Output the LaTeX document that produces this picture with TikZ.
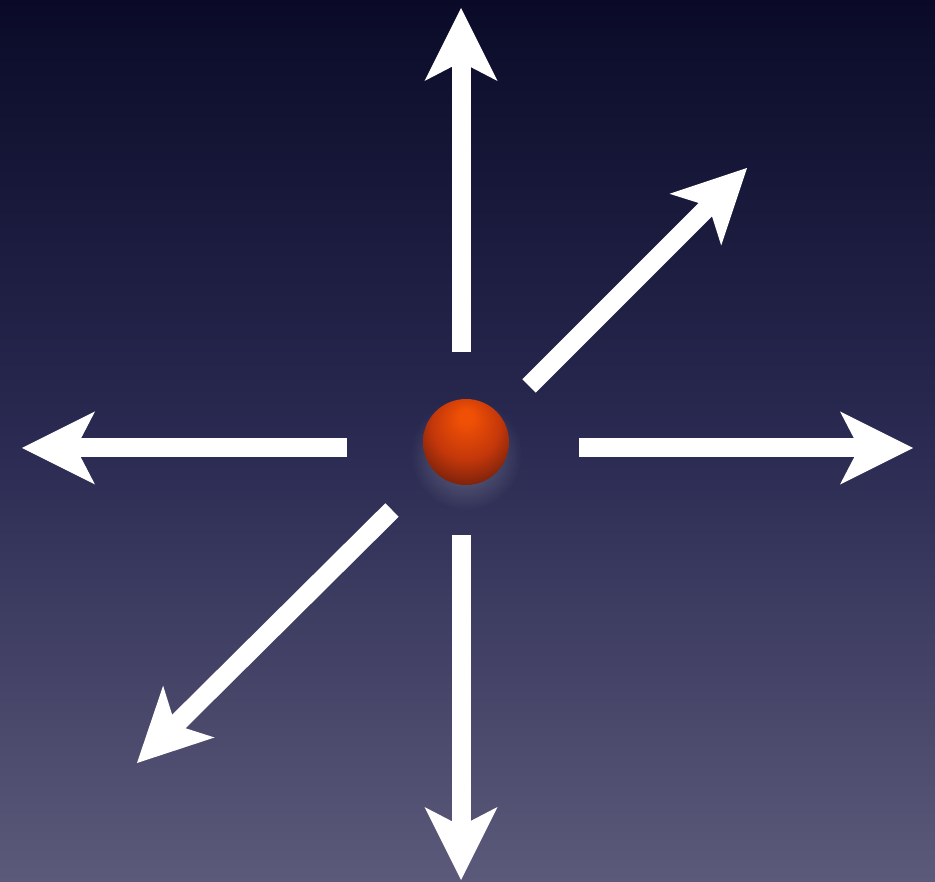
\documentclass[tikz,border=0pt]{standalone}
\usetikzlibrary{arrows.meta,fadings}
\definecolor{bgtop}{RGB}{10,10,40}
\definecolor{bgmid}{RGB}{42,42,82}
\definecolor{bgbot}{RGB}{92,90,122}
\definecolor{ballhi}{RGB}{240,80,5}
\definecolor{ballmid}{RGB}{195,55,10}
\definecolor{balldark}{RGB}{95,25,12}
\pgfdeclareradialshading{redball}{\pgfpoint{0bp}{16bp}}{%
  color(0bp)=(ballhi); color(4bp)=(ballhi); color(20bp)=(ballmid); color(36bp)=(balldark); color(50bp)=(balldark)}
\tikzfading[name=glowfade, inner color=transparent!0, outer color=transparent!100]
\tikzset{
  ray/.style={draw=white, line width=19pt, line cap=butt,
    -{Stealth[length=73pt,width=73pt,inset=19pt,line width=0pt]}},
  ballnode/.style={circle, minimum size=86pt, inner sep=0pt, shading=redball}
}
\begin{document}
\begin{tikzpicture}[x=1pt,y=-1pt]
\shade[top color=bgtop, bottom color=bgbot, middle color=bgmid] (0,0) rectangle (935,882);
\useasboundingbox (0,0) rectangle (935,882);
% glow
\fill[white, opacity=0.3, path fading=glowfade] (466,454) circle (56);
\node[ballnode] (ball) at (466,442) {};
% tails
\coordinate (tN) at (461,352);
\coordinate (tS) at (461,535);
\coordinate (tE) at (579,448);
\coordinate (tW) at (347,448);
\coordinate (tNE) at (529,386);
\coordinate (tSW) at (392,510);
% tips
\coordinate (hN) at (461,8);
\coordinate (hS) at (461,880);
\coordinate (hE) at (913,448);
\coordinate (hW) at (22,448);
\coordinate (hNE) at (747,168);
\coordinate (hSW) at (137,763);
\draw[ray] (tN) -- (hN);
\draw[ray] (tS) -- (hS);
\draw[ray] (tE) -- (hE);
\draw[ray] (tW) -- (hW);
\draw[ray] (tNE) -- (hNE);
\draw[ray] (tSW) -- (hSW);
\end{tikzpicture}
\end{document}
